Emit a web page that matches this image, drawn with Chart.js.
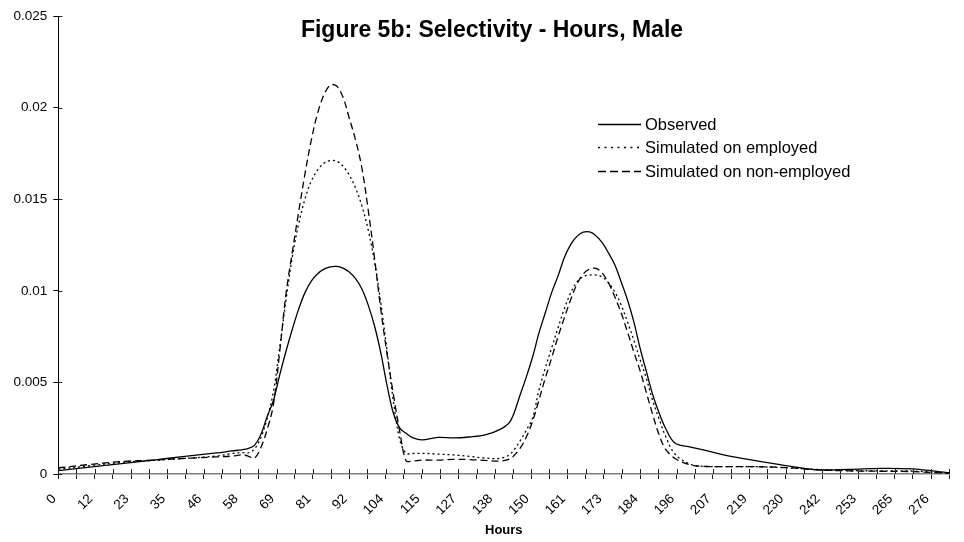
<!DOCTYPE html>
<html><head><meta charset="utf-8">
<script src="https://cdn.jsdelivr.net/npm/chart.js@4.4.1/dist/chart.umd.min.js"></script>
<style>html,body{margin:0;padding:0;background:#fff;}#wrap{width:964px;height:542px;position:relative;}canvas{display:block;}</style>
</head><body><div id="wrap"><canvas id="c" width="964" height="542"></canvas></div>
<script>
const chartTitle = 'Figure 5b: Selectivity - Hours, Male';
const xAxisTitle = 'Hours';
const seriesNames = ['Observed', 'Simulated on employed', 'Simulated on non-employed'];
const xTickLabels = ['0','12','23','35','46','58','69','81','92','104','115','127','138','150','161','173','184','196','207','219','230','242','253','265','276'];
const yTickLabels = ['0','0.005','0.01','0.015','0.02','0.025'];

const hours = [0,10,20,30,40,50,55,58,60,62,64,66,68,70,72,74,76,78,80,82,84,86,88,90,92,94,96,98,100,102,104,106,108,110,112,115,120,125,130,135,140,143,146,148,150,152,154,156,158,160,162,164,166,168,170,172,174,176,178,180,182,184,186,188,190,192,195,200,205,210,220,230,240,250,260,270,281.75];

const observed = [0.00018,0.00038,0.00057,0.00076,0.00096,0.00115,0.00126,0.00132,0.00139,0.00156,0.00213,0.00311,0.0040,0.0054,0.0067,0.0079,0.0090,0.0099,0.01053,0.01093,0.01118,0.01131,0.01133,0.01124,0.01102,0.01066,0.0101,0.00922,0.00808,0.0066,0.0048,0.0033,0.0025,0.00222,0.00199,0.00186,0.0020,0.00197,0.00202,0.00213,0.00246,0.0029,0.0043,0.0053,0.0064,0.0077,0.0088,0.0099,0.0108,0.0118,0.01252,0.01297,0.0132,0.01321,0.01301,0.01263,0.01206,0.01141,0.01048,0.0095,0.0083,0.00685,0.00557,0.00431,0.00333,0.00251,0.00169,0.00147,0.00128,0.00106,0.00074,0.00046,0.00023,0.00025,0.00031,0.00028,0.00007];

const simEmployed = [0.00027,0.00045,0.00063,0.00074,0.00085,0.00098,0.00112,0.00117,0.00115,0.00136,0.00197,0.0030,0.00448,0.0069,0.0095,0.01185,0.01365,0.01501,0.01599,0.01659,0.01697,0.01711,0.01708,0.01681,0.01632,0.01561,0.01463,0.01333,0.01157,0.00933,0.00666,0.00393,0.00186,0.00113,0.00112,0.00113,0.00109,0.00104,0.00096,0.00087,0.00086,0.0011,0.0018,0.0024,0.00306,0.00459,0.00579,0.00688,0.00797,0.00901,0.00988,0.01048,0.01078,0.01086,0.01086,0.01075,0.01043,0.00993,0.00922,0.0083,0.00731,0.00622,0.00519,0.00398,0.0030,0.00207,0.00109,0.00052,0.00041,0.0004,0.0004,0.00034,0.00025,0.00019,0.00017,0.00016,0.00005];

const simNonEmployed = [0.00034,0.00052,0.00068,0.00076,0.00085,0.00093,0.00098,0.00104,0.00098,0.00086,0.00142,0.0024,0.00377,0.00666,0.00983,0.01212,0.0143,0.01638,0.01823,0.0197,0.02069,0.02123,0.02118,0.02058,0.01943,0.01823,0.0167,0.01441,0.01179,0.00895,0.0065,0.00431,0.00229,0.00071,0.00071,0.00076,0.00076,0.0008,0.00079,0.00074,0.00071,0.00085,0.0014,0.00202,0.00289,0.00404,0.00524,0.00633,0.00748,0.00852,0.0095,0.01037,0.01092,0.01119,0.01122,0.01097,0.01043,0.00966,0.00879,0.00775,0.00666,0.00562,0.00442,0.00322,0.00213,0.00136,0.00085,0.00049,0.00041,0.0004,0.0004,0.00035,0.00023,0.00017,0.00015,0.00013,0.00004];

const FONT = '"Liberation Sans", Arial, Helvetica, sans-serif';
const toPts = arr => hours.map((h, i) => ({x: h, y: arr[i]}));

const titlePlugin = {
  id: 'figTitle',
  afterDraw(chart) {
    const ctx = chart.ctx;
    ctx.save();
    ctx.fillStyle = '#000';
    ctx.font = 'bold 23px ' + FONT;
    ctx.textAlign = 'center';
    ctx.textBaseline = 'alphabetic';
    ctx.fillText(chartTitle, 492, 36.5);
    ctx.restore();
  }
};

const legendPlugin = {
  id: 'figLegend',
  afterDraw(chart) {
    const ctx = chart.ctx;
    ctx.save();
    ctx.font = '16.5px ' + FONT;
    ctx.fillStyle = '#000';
    ctx.textAlign = 'left';
    ctx.textBaseline = 'alphabetic';
    chart.data.datasets.forEach((ds, i) => {
      const base = 129.5 + i * 23.5;
      const ly = Math.round(base - 6) + 0.5;
      ctx.strokeStyle = '#000';
      ctx.lineWidth = 1.3;
      ctx.setLineDash(ds.legendDash || ds.borderDash || []);
      ctx.beginPath();
      ctx.moveTo(598, ly);
      ctx.lineTo(641, ly);
      ctx.stroke();
      ctx.setLineDash([]);
      ctx.fillText(ds.label, 645, base);
    });
    ctx.restore();
  }
};

const innerTicks = {
  id: 'innerTicks',
  afterDraw(chart) {
    const {ctx, chartArea: a, scales: {x, y}} = chart;
    ctx.save();
    ctx.strokeStyle = '#222';
    ctx.lineWidth = 1;
    x.ticks.forEach((t, i) => {
      const px = Math.round(x.getPixelForTick(i)) + 0.5;
      ctx.beginPath(); ctx.moveTo(px, a.bottom - 5); ctx.lineTo(px, a.bottom); ctx.stroke();
    });
    y.ticks.forEach((t, i) => {
      const py = Math.round(y.getPixelForTick(i)) + 0.5;
      ctx.beginPath(); ctx.moveTo(a.left, py); ctx.lineTo(a.left + 4, py); ctx.stroke();
    });
    ctx.restore();
  }
};

const common = {pointRadius: 0, borderColor: '#000', borderWidth: 1.3, fill: false, tension: 0.35};

new Chart(document.getElementById('c'), {
  type: 'line',
  data: {
    datasets: [
      Object.assign({label: seriesNames[0], data: toPts(observed), borderDash: []}, common),
      Object.assign({label: seriesNames[1], data: toPts(simEmployed), borderDash: [2, 3], legendDash: [2, 4.5]}, common),
      Object.assign({label: seriesNames[2], data: toPts(simNonEmployed), borderDash: [7, 4], legendDash: [8, 4]}, common)
    ]
  },
  options: {
    responsive: false,
    animation: false,
    devicePixelRatio: 1,
    layout: {padding: {left: 0, right: 14.7, top: 16, bottom: 0}},
    plugins: {legend: {display: false}, title: {display: false}, tooltip: {enabled: false}},
    scales: {
      x: {
        type: 'linear', min: 0, max: 281.75,
        afterFit(s) { s.height = 68; s.paddingRight = 0; s.paddingLeft = 0; },
        border: {display: true, color: '#808080', width: 1.5},
        grid: {display: true, drawOnChartArea: false, drawTicks: true, tickLength: 5, color: '#222'},
        ticks: {
          stepSize: 5.75, autoSkip: false, maxRotation: 45, minRotation: 45, padding: 12, labelOffset: -4,
          color: '#000', font: {family: FONT, size: 13.5},
          callback: (v, i) => (i % 2 === 0 && xTickLabels[i / 2] !== undefined) ? xTickLabels[i / 2] : ''
        },
        title: {display: true, text: xAxisTitle, color: '#000', font: {family: FONT, size: 13, weight: 'bold'}, padding: {top: 0, bottom: 4}}
      },
      y: {
        min: 0, max: 0.025,
        afterFit(s) { s.width = 58.3; },
        border: {display: true, color: '#000', width: 1},
        grid: {display: true, drawOnChartArea: false, drawTicks: true, tickLength: 5, color: '#000'},
        ticks: {stepSize: 0.005, padding: 6, color: '#000', font: {family: FONT, size: 13.5}, callback: (v, i) => yTickLabels[i]}
      }
    }
  },
  plugins: [titlePlugin, legendPlugin, innerTicks]
});
</script></body></html>
